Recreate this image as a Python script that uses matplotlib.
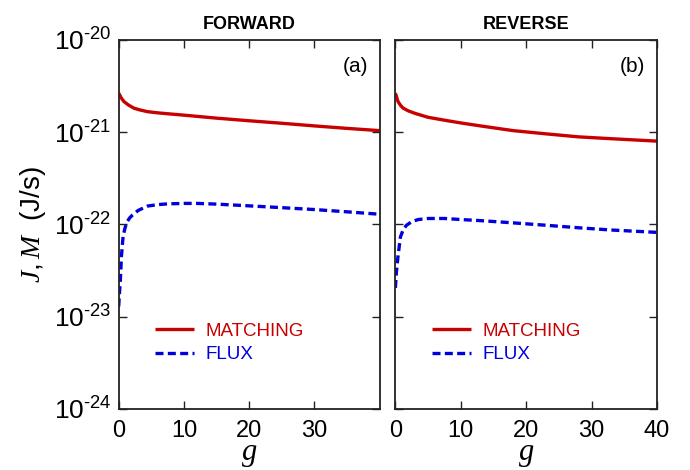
import numpy as np
import matplotlib.pyplot as plt

plt.rcParams['font.family'] = ['Liberation Sans', 'DejaVu Sans']
plt.rcParams['mathtext.fontset'] = 'custom'
plt.rcParams['mathtext.rm'] = 'Liberation Sans'
plt.rcParams['mathtext.it'] = 'Liberation Serif:italic'
plt.rcParams['mathtext.bf'] = 'Liberation Sans:bold'

# FORWARD (a)
g_fwd_match = [0, 0.4, 0.8, 1.5, 2.35, 3.3, 4.4, 6, 7.7, 10, 15, 20, 25, 30, 35, 40]
fwd_match = [2.65e-21, 2.35e-21, 2.15e-21, 1.97e-21, 1.82e-21, 1.74e-21, 1.67e-21, 1.62e-21,
             1.58e-21, 1.53e-21, 1.42e-21, 1.33e-21, 1.25e-21, 1.17e-21, 1.1e-21, 1.04e-21]
g_fwd_flux = [0, 0.12, 0.26, 0.42, 0.68, 1.0, 1.3, 1.7, 2.1, 3, 4.4, 6, 7.5, 10, 12, 15, 20, 25, 30, 35, 40]
fwd_flux = [1.29e-23, 1.8e-23, 2.5e-23, 4.5e-23, 7.5e-23, 9.3e-23, 1.07e-22, 1.18e-22, 1.26e-22,
            1.42e-22, 1.58e-22, 1.64e-22, 1.67e-22, 1.69e-22, 1.69e-22, 1.66e-22, 1.59e-22,
            1.52e-22, 1.45e-22, 1.37e-22, 1.29e-22]

# REVERSE (b)
g_rev_match = [0, 0.2, 0.4, 0.8, 1.2, 2, 3, 5, 7.75, 10, 13, 18, 23, 28, 33, 40]
rev_match = [2.65e-21, 2.4e-21, 2.15e-21, 1.95e-21, 1.82e-21, 1.7e-21, 1.6e-21, 1.45e-21,
             1.34e-21, 1.26e-21, 1.17e-21, 1.04e-21, 0.96e-21, 0.89e-21, 0.85e-21, 0.8e-21]
g_rev_flux = [0, 0.15, 0.4, 0.77, 1.2, 1.7, 2.5, 3.5, 5, 7.5, 10, 13, 18, 23, 28, 33, 40]
rev_flux = [2.05e-23, 3e-23, 4.5e-23, 7.3e-23, 8.8e-23, 9.8e-23, 1.07e-22, 1.13e-22, 1.16e-22,
            1.16e-22, 1.13e-22, 1.1e-22, 1.04e-22, 9.8e-23, 9.2e-23, 8.7e-23, 8.2e-23]

yticks = [1e-24, 1e-23, 1e-22, 1e-21, 1e-20]
yexp = ['24', '23', '22', '21', '20']
ytick_labels = [r'$\mathregular{10^{\text{-}%s}}$' % e for e in yexp]

red = '#c80000'
blue = '#0000dd'

fig = plt.figure(figsize=(6.9, 4.7), dpi=100)
ax1 = fig.add_axes([0.172, 0.130, 0.378, 0.785])
ax2 = fig.add_axes([0.573, 0.130, 0.379, 0.785])

panels = [
    (ax1, g_fwd_match, fwd_match, g_fwd_flux, fwd_flux, 'FORWARD', '(a)', [0, 10, 20, 30]),
    (ax2, g_rev_match, rev_match, g_rev_flux, rev_flux, 'REVERSE', '(b)', [0, 10, 20, 30, 40]),
]

for ax, gm, m, gf, f, title, lab, xt in panels:
    ax.plot(gm, m, color=red, lw=2.4, label='MATCHING', solid_capstyle='butt')
    ax.plot(gf, f, color=blue, lw=2.4, linestyle=(0, (2.4, 1.3)), label='FLUX')
    ax.set_yscale('log')
    ax.set_xlim(0, 40)
    ax.set_ylim(1e-24, 1e-20)
    ax.set_xticks(xt)
    ax.set_xticklabels([str(v) for v in xt])
    ax.set_yticks(yticks)
    ax.minorticks_off()
    ax.tick_params(direction='in', length=6, width=1, top=True, right=True,
                   colors='#222222', labelcolor='black')
    ax.tick_params(axis='x', labelsize=17, pad=8)
    ax.tick_params(axis='y', labelsize=19, pad=5)
    for s in ax.spines.values():
        s.set_linewidth(1.3)
        s.set_color('#222222')
    ax.set_title(title, fontsize=13, fontweight='bold', pad=8)
    ax.text(0.955, 0.955, lab, transform=ax.transAxes, ha='right', va='top', fontsize=15)
    ax.set_xlabel(r'$g$', fontsize=22, labelpad=-2)
    leg = ax.legend(loc='upper left', bbox_to_anchor=(0.075, 0.28), frameon=False,
                    fontsize=13.5, handlelength=2.1, handletextpad=0.6, labelspacing=0.35)
    for txt, c in zip(leg.get_texts(), [red, blue]):
        txt.set_color(c)

ax1.set_yticklabels(ytick_labels)
ax2.set_yticklabels([])
ax1.set_ylabel(r'$J, M$  (J/s)', fontsize=20, labelpad=4)

fig.savefig('out.png', dpi=100)
